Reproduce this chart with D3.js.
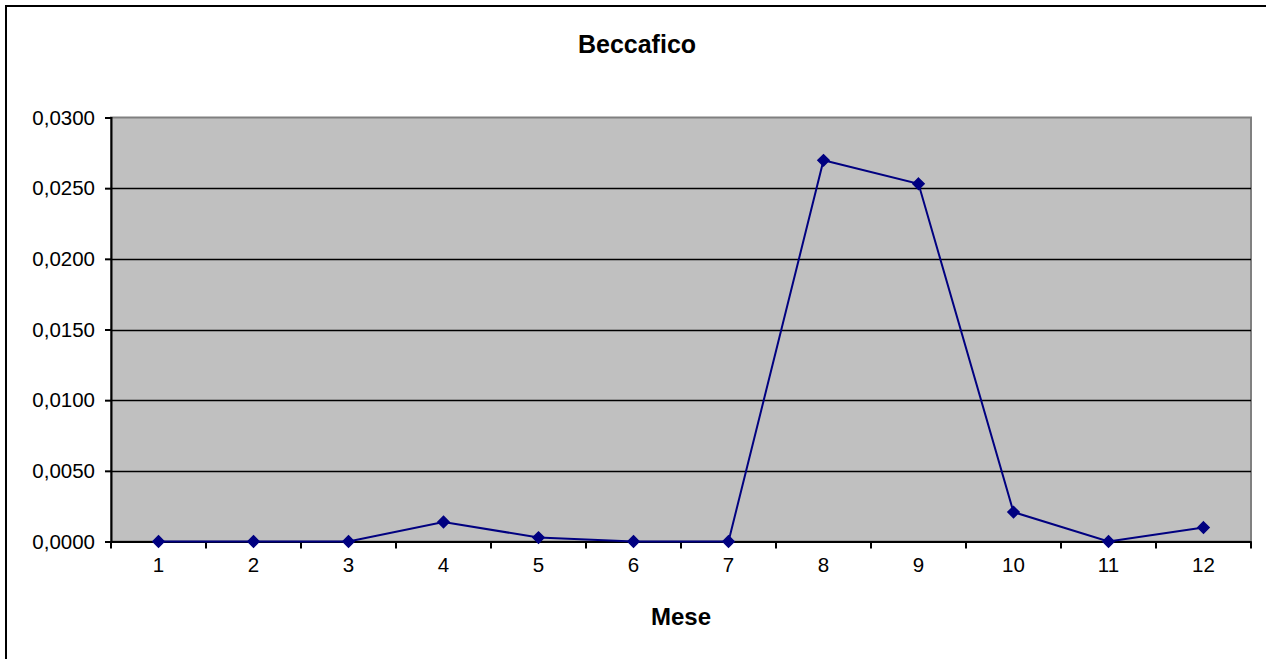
<!DOCTYPE html>
<html>
<head>
<meta charset="utf-8">
<script src="https://cdn.jsdelivr.net/npm/d3@7"></script>
<style>
  html, body { margin: 0; padding: 0; background: #fff; }
  svg { display: block; font-family: Arial, "Liberation Sans", sans-serif; }
</style>
</head>
<body>
<svg id="chart" width="1266" height="659"></svg>
<script>
const title = "Beccafico";
const xTitle = "Mese";
const months = ["1","2","3","4","5","6","7","8","9","10","11","12"];
const values = [0, 0, 0, 0.00138, 0.00028, 0, 0, 0.02697, 0.02531, 0.00208, 0, 0.00099];
const yTicks = [0, 0.005, 0.010, 0.015, 0.020, 0.025, 0.030];

const svg = d3.select("#chart");
const pLeft = 111, pRight = 1251, pTop = 117.5, pBottom = 541.5;

// outer chart border
svg.append("rect").attr("x", 6).attr("y", 6).attr("width", 1300).attr("height", 700)
  .attr("fill", "#fff").attr("stroke", "#000").attr("stroke-width", 2);

const x = d3.scaleBand().domain(months).range([pLeft, pRight]).paddingInner(0).paddingOuter(0);
const y = d3.scaleLinear().domain([0, 0.03]).range([pBottom, pTop]);

// plot area
svg.append("rect").attr("x", pLeft).attr("y", pTop).attr("width", pRight - pLeft).attr("height", pBottom - pTop)
  .attr("fill", "#C0C0C0").attr("stroke", "#808080").attr("stroke-width", 2);

// gridlines
svg.append("g").selectAll("line").data(yTicks.filter(d => d > 0 && d < 0.03)).join("line")
  .attr("x1", pLeft).attr("x2", pRight)
  .attr("y1", d => Math.round(y(d)) + 0.5).attr("y2", d => Math.round(y(d)) + 0.5)
  .attr("stroke", "#000").attr("stroke-width", 1.5);

const fmt = d => d3.format(".4f")(d).replace(".", ",");

// y axis
const yAxis = svg.append("g").attr("transform", `translate(${pLeft},0)`)
  .call(d3.axisLeft(y).tickValues(yTicks).tickFormat(fmt).tickSize(6).tickPadding(10));
yAxis.select(".domain").attr("stroke", "#000").attr("stroke-width", 2);
yAxis.selectAll(".tick line").attr("stroke", "#000").attr("stroke-width", 2);
yAxis.selectAll(".tick text").attr("font-size", 20.5).attr("fill", "#000")
  .attr("font-family", "Arial, 'Liberation Sans', sans-serif");

// x axis
const xAxis = svg.append("g").attr("transform", `translate(0,${pBottom})`)
  .call(d3.axisBottom(x).tickSize(0).tickPadding(16));
xAxis.select(".domain").attr("stroke", "#000").attr("stroke-width", 2);
xAxis.selectAll(".tick text").attr("font-size", 20.5).attr("fill", "#000")
  .attr("font-family", "Arial, 'Liberation Sans', sans-serif");
// boundary ticks
const bounds = months.map(m => x(m)).concat([x(months[months.length - 1]) + x.bandwidth()]);
svg.append("g").selectAll("line").data(bounds).join("line")
  .attr("x1", d => d).attr("x2", d => d)
  .attr("y1", pBottom).attr("y2", pBottom + 7)
  .attr("stroke", "#000").attr("stroke-width", 2);

// line
const cx = m => x(m) + x.bandwidth() / 2;
svg.append("path").datum(values)
  .attr("d", d3.line().x((d, i) => cx(months[i])).y(d => y(d)))
  .attr("fill", "none").attr("stroke", "#000080").attr("stroke-width", 2);

// markers
svg.append("g").selectAll("path").data(values).join("path")
  .attr("d", d3.symbol().type(d3.symbolDiamond2).size(80))
  .attr("transform", (d, i) => `translate(${cx(months[i])},${y(d)})`)
  .attr("fill", "#000080").attr("stroke", "#000080").attr("stroke-width", 1.5);

// titles
svg.append("text").attr("x", 637).attr("y", 53).attr("text-anchor", "middle")
  .attr("font-size", 25).attr("font-weight", "bold").text(title);
svg.append("text").attr("x", 681).attr("y", 625).attr("text-anchor", "middle")
  .attr("font-size", 24).attr("font-weight", "bold").text(xTitle);
</script>
</body>
</html>
